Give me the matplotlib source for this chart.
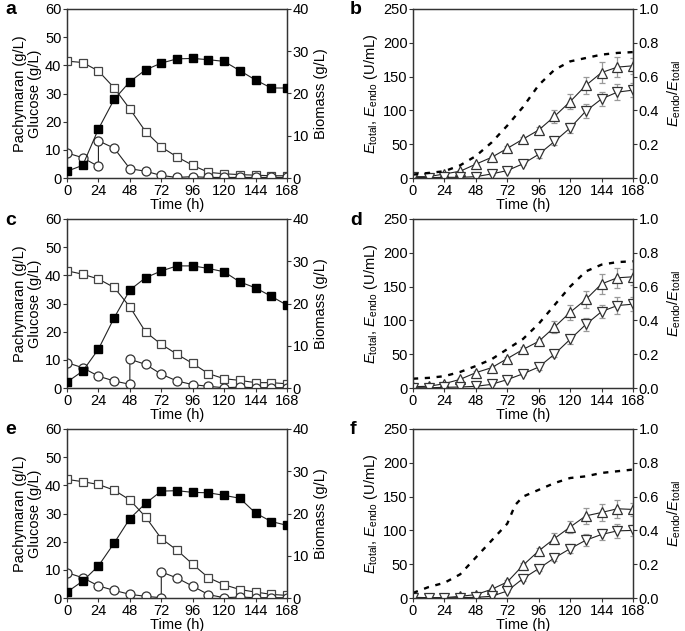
import numpy as np
import matplotlib
matplotlib.use("Agg")
import matplotlib.pyplot as plt

plt.rcParams['font.family'] = ['Liberation Sans', 'DejaVu Sans']
plt.rcParams['mathtext.fontset'] = 'custom'
plt.rcParams['mathtext.rm'] = 'Liberation Sans'
plt.rcParams['mathtext.it'] = 'Liberation Sans:italic'

time = [0, 12, 24, 36, 48, 60, 72, 84, 96, 108, 120, 132, 144, 156, 168]

# ---- panel a ----
glucose_a = [41.5, 41, 38, 32, 24.5, 16.5, 11, 7.5, 4.5, 2, 1.5, 1.2, 1, 0.8, 0.8]
biomass_a = [1.6, 3, 11.6, 18.6, 22.8, 25.6, 27.2, 28.2, 28.3, 28.0, 27.6, 25.4, 23.2, 21.3, 21.3]
pachy_t_a = [0, 12, 24, 24, 36, 48, 60, 72, 84, 96, 108, 120, 132, 144, 156, 168]
pachy_a = [8.9, 7.2, 4.1, 13.2, 10.6, 3.3, 2.4, 0.9, 0.2, 0.5, 0.2, 0.2, 0.2, 0.2, 0.2, 0.2]

# ---- panel c ----
glucose_c = [41.6, 40.4, 38.7, 35.7, 28.8, 19.9, 15.5, 12, 8.7, 5.1, 3.3, 2.7, 1.9, 1.9, 1.5]
biomass_c = [1.4, 4, 9.2, 16.6, 23.2, 26.1, 27.7, 28.9, 28.9, 28.3, 27.5, 25.1, 23.7, 21.7, 19.6]
pachy_t_c = [0, 12, 24, 36, 48, 48, 60, 72, 84, 96, 108, 120, 132, 144, 156, 168]
pachy_c = [9, 7.2, 4.2, 2.5, 1.3, 10.2, 8.4, 4.9, 2.5, 1.2, 0.6, 0.1, 0.3, 0.1, 0.1, 0.1]

# ---- panel e ----
glucose_e = [42.1, 41.3, 40.3, 38.3, 34.8, 28.8, 21.1, 17, 12, 7.2, 4.7, 3, 2.1, 1.3, 0.9]
biomass_e = [1.4, 4, 7.6, 13, 18.8, 22.4, 25.3, 25.4, 25, 24.9, 24.3, 23.6, 20.1, 18.1, 17.2]
pachy_t_e = [0, 12, 24, 36, 48, 60, 72, 72, 84, 96, 108, 120, 132, 144, 156, 168]
pachy_e = [9, 7.2, 4.3, 2.7, 1.3, 0.6, 0.1, 9.25, 7.1, 4.2, 1.2, 0.1, 0.35, 0.1, 0.1, 0.1]

# ---- panel b ----
etotal_b = [2, 2, 6, 10, 20.5, 30.5, 43.8, 57.5, 71, 91, 113, 137, 156, 164, 166]
etotal_err_b = [1, 1, 1.5, 2, 2, 2, 3, 3, 4, 9, 11, 13, 15, 15, 12]
eendo_b = [1, 0.5, 1, 1, 2, 6, 11, 21, 35, 54, 74, 99, 117, 127, 130]
eendo_err_b = [0.5, 0.5, 0.5, 0.5, 1, 1, 2, 2, 5, 5, 7, 10, 10, 12, 10]
ratio_t_b = [0, 12, 24, 36, 48, 60, 72, 84, 96, 108, 120, 132, 144, 156, 168]
ratio_b = [0.02, 0.03, 0.04, 0.075, 0.13, 0.21, 0.31, 0.42, 0.55, 0.64, 0.69, 0.71, 0.73, 0.74, 0.745]

# ---- panel d ----
etotal_d = [2, 2.5, 6.4, 12.8, 22.7, 30, 43.5, 57, 69, 90, 112, 131, 154, 163, 164.5]
etotal_err_d = [1, 1, 1.5, 2, 2, 2, 3, 3, 4, 9, 11, 13, 15, 15, 12]
eendo_d = [0.5, 0.3, 1, 1.5, 2.5, 5.4, 12.4, 21, 31, 50, 72, 94, 113, 122, 124]
eendo_err_d = [0.5, 0.5, 0.5, 0.5, 1, 1, 2, 2, 5, 4, 7, 10, 10, 12, 10]
ratio_t_d = [0, 12, 24, 36, 48, 60, 72, 84, 96, 108, 120, 132, 144, 156, 168]
ratio_d = [0.055, 0.06, 0.07, 0.095, 0.13, 0.17, 0.23, 0.29, 0.38, 0.49, 0.6, 0.69, 0.73, 0.745, 0.75]

# ---- panel f ----
etotal_f = [1, 0.5, 0.5, 2.5, 5, 12.8, 23.7, 48.4, 69.7, 88, 105, 121.5, 126.5, 132, 131]
etotal_err_f = [1, 0.5, 0.5, 1, 1.5, 2, 3, 4, 5, 8, 9, 12, 12, 13, 10]
eendo_f = [0.2, 0.2, 0.2, 0.5, 1, 2.5, 10.4, 28.7, 43.5, 59.3, 73, 85.5, 94, 99.3, 100]
eendo_err_f = [0.3, 0.3, 0.3, 0.3, 0.5, 1, 2, 3, 3, 5, 7, 9, 8, 10, 8]
ratio_t_f = [0, 12, 24, 36, 48, 60, 72, 78, 84, 96, 108, 120, 132, 144, 156, 168]
ratio_f = [0.03, 0.065, 0.09, 0.14, 0.24, 0.34, 0.44, 0.55, 0.6, 0.64, 0.68, 0.71, 0.72, 0.74, 0.75, 0.76]

xticks = [0, 24, 48, 72, 96, 120, 144, 168]

W, H = 685, 631
fig = plt.figure(figsize=(W / 100, H / 100), dpi=100)

def axes_px(l, r, t, b):
    return fig.add_axes([l / W, 1 - b / H, (r - l) / W, (b - t) / H])

FS = 10.5
SP = '#333333'

def style(ax, twin):
    for a in (ax, twin):
        for s in a.spines.values():
            s.set_color(SP)
            s.set_linewidth(0.9)
        a.tick_params(direction='out', length=3, width=0.8, color=SP, labelsize=FS, pad=1)
    ax.set_xlim(0, 168)
    ax.set_xticks(xticks)
    ax.set_xlabel('Time (h)', fontsize=FS, labelpad=0)

rows = [(9, 178), (219, 388), (429, 598)]
left_data = [
    ('a', glucose_a, biomass_a, pachy_t_a, pachy_a),
    ('c', glucose_c, biomass_c, pachy_t_c, pachy_c),
    ('e', glucose_e, biomass_e, pachy_t_e, pachy_e),
]
right_data = [
    ('b', etotal_b, etotal_err_b, eendo_b, eendo_err_b, ratio_t_b, ratio_b),
    ('d', etotal_d, etotal_err_d, eendo_d, eendo_err_d, ratio_t_d, ratio_d),
    ('f', etotal_f, etotal_err_f, eendo_f, eendo_err_f, ratio_t_f, ratio_f),
]

for (t, b), (lab, glu, bio, pt, pv) in zip(rows, left_data):
    ax = axes_px(67, 287, t, b)
    tw = ax.twinx()
    style(ax, tw)
    ax.set_ylim(0, 60)
    ax.set_yticks(range(0, 61, 10))
    tw.set_ylim(0, 40)
    tw.set_yticks(range(0, 41, 10))
    ax.plot(time, glu, '-s', color='#222222', lw=0.8, ms=6.2, mfc='white',
            mec='#444444', mew=0.9, zorder=3)
    ax.plot(pt, pv, '-o', color='#222222', lw=0.8, ms=6.5, mfc='white',
            mec='#333333', mew=0.9, zorder=4)
    tw.plot(time, bio, '-s', color='#222222', lw=0.8, ms=6.2, mfc='black',
            mec='black', zorder=3)
    ax.set_ylabel('Pachymaran (g/L)\nGlucose (g/L)', fontsize=FS, labelpad=2,
                  linespacing=1.15)
    tw.set_ylabel('Biomass (g/L)', fontsize=FS, labelpad=4)
    fig.text(5 / W, 1 - (t + 1) / H, lab, fontsize=14, fontweight='bold',
             va='center', ha='left')

for (t, b), (lab, et, ete, en, ene, rt, rv) in zip(rows, right_data):
    ax = axes_px(413, 633, t, b)
    tw = ax.twinx()
    style(ax, tw)
    ax.set_ylim(0, 250)
    ax.set_yticks(range(0, 251, 50))
    tw.set_ylim(0, 1.0)
    tw.set_yticks([0, 0.2, 0.4, 0.6, 0.8, 1.0])
    tw.set_yticklabels(['0.0', '0.2', '0.4', '0.6', '0.8', '1.0'])
    ax.errorbar(time, et, yerr=ete, fmt='-^', color='#222222', lw=0.8, ms=7,
                mfc='white', mec='#333333', mew=0.9, ecolor='#999999',
                elinewidth=0.9, capsize=2, capthick=0.9, zorder=3)
    ax.errorbar(time, en, yerr=ene, fmt='-v', color='#222222', lw=0.8, ms=7,
                mfc='white', mec='#333333', mew=0.9, ecolor='#999999',
                elinewidth=0.9, capsize=2, capthick=0.9, zorder=3)
    tw.plot(rt, rv, color='black', lw=1.7, ls=(0, (2.2, 2.8)), zorder=2)
    ax.set_ylabel(r'$E_\mathrm{total}$, $E_\mathrm{endo}$ (U/mL)', fontsize=FS, labelpad=2)
    tw.set_ylabel(r'$E_\mathrm{endo}$/$E_\mathrm{total}$', fontsize=FS, labelpad=5)
    fig.text(350 / W, 1 - (t + 1) / H, lab, fontsize=14, fontweight='bold',
             va='center', ha='left')

fig.savefig('out.png', dpi=100)
